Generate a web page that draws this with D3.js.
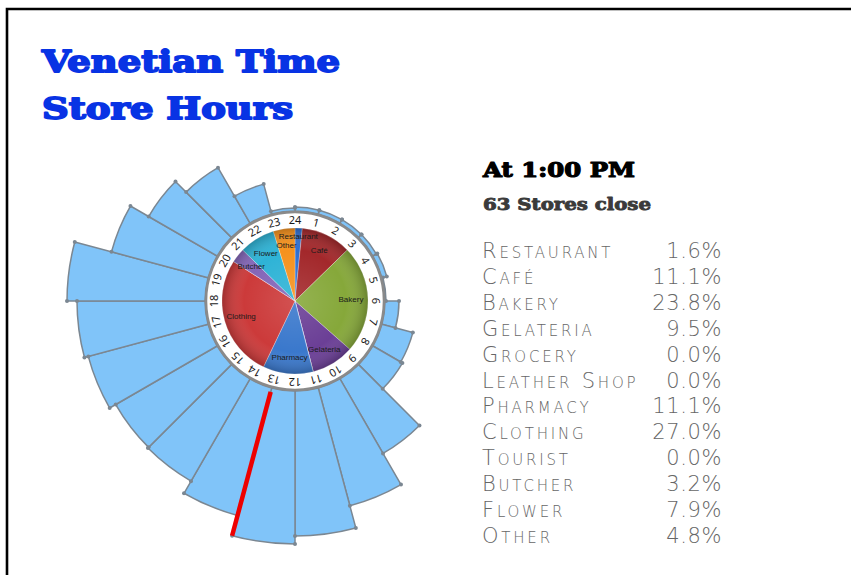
<!DOCTYPE html>
<html>
<head>
<meta charset="utf-8">
<style>
  body { margin: 0; background: #fff; }
  svg { display: block; }
</style>
</head>
<body>
<svg width="851" height="575"></svg>
<script src="https://d3js.org/d3.v7.min.js"></script>
<script>

  // stores open in each hour slot (slot i runs from hour i to hour i+1, 0 = midnight)
  var storesOpen = [4, 4, 4, 4, 5, 1, 14, 32, 34, 86, 122, 145, 153, 132, 118, 117, 124, 128, 138, 100, 79, 64, 31, 3];
  var hourLabels = ["1", "2", "3", "4", "5", "6", "7", "8", "9", "10", "11", "12",
    "13", "14", "15", "16", "17", "18", "19", "20", "21", "22", "23", "24"];

  var selectedHour = 13,
    selectedTime = "At 1:00 PM",
    closingCount = 63;

  var categories = ["Restaurant", "Café", "Bakery", "Gelateria", "Grocery", "Leather Shop",
    "Pharmacy", "Clothing", "Tourist", "Butcher", "Flower", "Other"];
  var shares = [1.6, 11.1, 23.8, 9.5, 0.0, 0.0, 11.1, 27.0, 0.0, 3.2, 7.9, 4.8];
  var sliceColors = ["#2f6fd0", "#a3282b", "#86a83a", "#6b3f96", "#999999", "#999999",
    "#3a78cc", "#cc3a3a", "#999999", "#8466b8", "#2eb3d6", "#f6921e"];

  var svg = d3.select("svg"),
    cx = 295, cy = 301,
    pieRadius = 73,
    ringRadius = 89,
    barInner = 90;

  // frame
  svg.append("path")
    .attr("d", "M7,575 V9 H851")
    .attr("fill", "none")
    .attr("stroke", "#000")
    .attr("stroke-width", 2.6);

  // title
  var title = svg.append("g")
    .attr("font-family", "'DejaVu Serif', serif")
    .attr("font-weight", "bold")
    .attr("font-size", 30)
    .attr("fill", "#0833e4")
    .attr("stroke", "#0833e4")
    .attr("stroke-width", 1.8)
    .attr("stroke-linejoin", "round");
  title.append("text").attr("x", 42).attr("y", 72)
    .attr("textLength", 298).attr("lengthAdjust", "spacingAndGlyphs")
    .text("Venetian Time");
  title.append("text").attr("x", 42).attr("y", 119)
    .attr("textLength", 251).attr("lengthAdjust", "spacingAndGlyphs")
    .text("Store Hours");

  var g = svg.append("g").attr("transform", "translate(" + cx + "," + cy + ")");

  var toRad = Math.PI / 12;   // one hour in radians

  var r = d3.scaleLinear()
    .domain([0, d3.max(storesOpen)])
    .range([barInner, 243]);

  var bar = d3.arc()
    .innerRadius(barInner)
    .outerRadius(function (d) { return r(d); })
    .startAngle(function (d, i) { return i * toRad; })
    .endAngle(function (d, i) { return (i + 1) * toRad; });

  g.selectAll(".bar")
    .data(storesOpen)
    .enter().append("path")
    .attr("class", "bar")
    .attr("d", bar)
    .attr("fill", "#80c4f9")
    .attr("stroke", "#7b8792")
    .attr("stroke-width", 1.5)
    .attr("stroke-linejoin", "round");

  // corner dots
  var corners = [];
  storesOpen.forEach(function (v, i) {
    corners.push({ a: i * toRad, r: r(v) });
    corners.push({ a: (i + 1) * toRad, r: r(v) });
  });
  g.selectAll(".dot")
    .data(corners)
    .enter().append("circle")
    .attr("class", "dot")
    .attr("cx", function (d) { return d.r * Math.sin(d.a); })
    .attr("cy", function (d) { return -d.r * Math.cos(d.a); })
    .attr("r", 2)
    .attr("fill", "#7b8792");

  // selected hour marker
  var selA = selectedHour * toRad,
    selR = r(storesOpen[selectedHour - 1]);
  g.append("line")
    .attr("x1", 94 * Math.sin(selA)).attr("y1", -94 * Math.cos(selA))
    .attr("x2", selR * Math.sin(selA)).attr("y2", -selR * Math.cos(selA))
    .attr("stroke", "#ee0000")
    .attr("stroke-width", 4.5);

  // clock ring
  g.append("circle")
    .attr("r", ringRadius)
    .attr("fill", "#fff")
    .attr("stroke", "#8a8a8a")
    .attr("stroke-width", 2.5);

  g.selectAll(".hour")
    .data(hourLabels)
    .enter().append("text")
    .attr("class", "hour")
    .attr("transform", function (d, i) { return "rotate(" + ((i + 1) * 15) + ") translate(0,-81)"; })
    .attr("text-anchor", "middle")
    .attr("dy", "0.35em")
    .attr("font-family", "'Noto Sans', sans-serif")
    .attr("font-size", 11)
    .attr("fill", "#1a1a1a")
    .text(function (d) { return d; });

  // pie
  var defs = svg.append("defs");
  var shade = defs.append("radialGradient").attr("id", "shade");
  shade.append("stop").attr("offset", "0%").attr("stop-color", "#fff").attr("stop-opacity", 0.12);
  shade.append("stop").attr("offset", "70%").attr("stop-color", "#fff").attr("stop-opacity", 0);
  shade.append("stop").attr("offset", "100%").attr("stop-color", "#000").attr("stop-opacity", 0.22);

  var pie = d3.pie().sort(null).value(function (d) { return d; });
  var slices = pie(shares);

  var arc = d3.arc().innerRadius(0).outerRadius(pieRadius);
  // thin slices get their label pushed outward so neighbours don't collide
  var labelArc = d3.arc()
    .innerRadius(function (d) { return d.value < 2 ? 65 : 56; })
    .outerRadius(function (d) { return d.value < 2 ? 65 : 56; });

  g.selectAll(".slice")
    .data(slices)
    .enter().append("path")
    .attr("class", "slice")
    .attr("d", arc)
    .attr("fill", function (d, i) { return sliceColors[i]; })
    .attr("stroke", "rgba(255,255,255,0.45)")
    .attr("stroke-width", 0.6);

  g.append("circle")
    .attr("r", pieRadius)
    .attr("fill", "url(#shade)");

  g.selectAll(".slabel")
    .data(slices.filter(function (d) { return d.value > 0; }))
    .enter().append("text")
    .attr("class", "slabel")
    .attr("transform", function (d) { return "translate(" + labelArc.centroid(d) + ")"; })
    .attr("text-anchor", "middle")
    .attr("dy", "0.35em")
    .attr("font-family", "'Liberation Sans', sans-serif")
    .attr("font-size", 8)
    .attr("fill", "#1a1a1a")
    .text(function (d) { return categories[d.index]; });

  // right panel
  var panel = svg.append("g");
  panel.append("text")
    .attr("x", 483).attr("y", 177)
    .attr("font-family", "'DejaVu Serif', serif")
    .attr("font-weight", "bold")
    .attr("font-size", 21)
    .attr("fill", "#000")
    .attr("stroke", "#000").attr("stroke-width", 1.2).attr("stroke-linejoin", "round")
    .attr("textLength", 152).attr("lengthAdjust", "spacingAndGlyphs")
    .text(selectedTime);
  panel.append("text")
    .attr("x", 483).attr("y", 210)
    .attr("font-family", "'DejaVu Serif', serif")
    .attr("font-weight", "bold")
    .attr("font-size", 17)
    .attr("fill", "#3a3a3a")
    .attr("stroke", "#3a3a3a").attr("stroke-width", 0.9).attr("stroke-linejoin", "round")
    .attr("textLength", 168).attr("lengthAdjust", "spacingAndGlyphs")
    .text(closingCount + " Stores close");

  var row = d3.scaleLinear().domain([0, categories.length - 1]).range([258, 543]);
  var fmt = d3.format(".1f");

  var rows = panel.selectAll(".row")
    .data(categories)
    .enter().append("g")
    .attr("class", "row")
    .attr("transform", function (d, i) { return "translate(0," + row(i) + ")"; })
    .attr("font-family", "'DejaVu Sans', sans-serif")
    .attr("font-weight", 200)
    .attr("font-size", 21)
    .attr("fill", "#666");

  rows.append("text")
    .attr("x", 482)
    .style("font-variant", "small-caps")
    .attr("letter-spacing", 2.8)
    .text(function (d) { return d; });

  rows.append("text")
    .attr("x", 722)
    .attr("text-anchor", "end")
    .attr("letter-spacing", 0.6)
    .text(function (d, i) { return fmt(shares[i]) + "%"; });

</script>
</body>
</html>
